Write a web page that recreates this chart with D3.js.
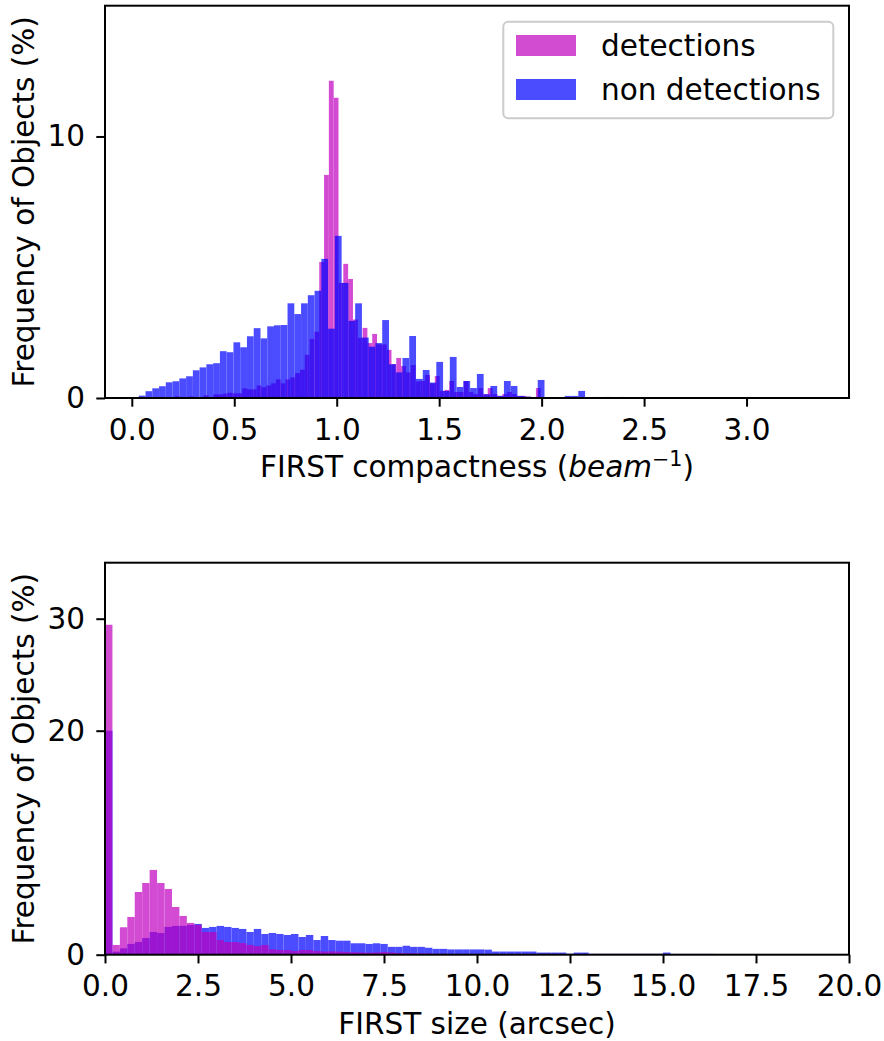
<!DOCTYPE html>
<html>
<head>
<meta charset="utf-8">
<script src="https://cdn.jsdelivr.net/npm/d3@7/dist/d3.min.js"></script>
<style>
  body { margin: 0; background: #fff; }
  text { font-family: 'DejaVu Sans', sans-serif; fill: #000; }
</style>
</head>
<body>
<svg id="fig" width="884" height="1041"></svg>
<script>
// ---------- FIRST compactness histograms (% of objects per bin) ----------
const compactDetStart = 0.0687;   // first bin edge, detections
const compactDetWidth = 0.0235;   // bin width, detections
const compactDet = [
  0, 0, 0, 0, 0, 0, 0.06, 0, 0, 0.06,
  0, 0, 0.10, 0, 0.14, 0.14, 0.17, 0.20, 0.18, 0.18,
  0.37, 0.33, 0.33, 0.48, 0.41, 0.48, 0.56, 0.71, 0.56, 0.71,
  0.79, 0.95, 1.08, 1.65, 2.26, 2.53, 5.20, 8.53, 12.13, 11.48,
  4.40, 5.13, 4.55, 3.00, 2.30, 2.68, 2.10, 2.45, 2.05, 2.05,
  1.84, 1.30, 1.53, 1.22, 0.98, 1.26, 0.63, 0.65, 0.88, 0.56,
  0.84, 0.27, 0.31, 0.65, 0.23, 0.23, 0.65, 0.23, 0.15, 0.38,
  0.15, 0.38, 0.15, 0.08, 0.15, 0.23, 0.15, 0.08, 0.08, 0.05,
  0, 0.38, 0, 0, 0, 0, 0, 0, 0, 0,
  0, 0, 0, 0, 0.03, 0, 0, 0.03, 0, 0.03
];

const compactNonStart = 0.034;    // first bin edge, non detections
const compactNonWidth = 0.033;    // bin width, non detections
const compactNon = [
  0.09, 0.26, 0.37, 0.45, 0.60, 0.64, 0.75, 0.83, 1.06, 1.17,
  1.29, 1.33, 1.79, 1.75, 2.13, 1.94, 2.36, 2.67, 2.28, 2.74,
  2.78, 2.79, 3.62, 3.21, 3.62, 3.93, 4.10, 5.32, 2.65, 6.20,
  4.40, 2.95, 3.62, 2.31, 1.96, 2.10, 2.98, 1.29, 0.98, 1.53,
  2.37, 0.73, 1.07, 0.59, 1.38, 0.27, 1.57, 0.42, 0.65, 0.38,
  0.92, 0.14, 0.46, 0.08, 0.65, 0.46, 0.08, 0.05, 0, 0.69,
  0, 0, 0, 0.08, 0.08, 0.27, 0, 0.04, 0, 0.04,
  0, 0.04, 0, 0, 0, 0, 0, 0, 0, 0,
  0, 0, 0, 0, 0, 0, 0, 0, 0, 0,
  0, 0, 0, 0, 0, 0, 0, 0, 0, 0.03
];

// ---------- FIRST size histograms (arcsec, 0.2" bins) ----------
const sizeStart = 0;
const sizeWidth = 0.2;
const sizeNon = [
  20.0, 0.27, 0.57, 0.96, 1.13, 1.49, 2.03, 1.94, 2.48, 2.57,
  2.57, 2.66, 2.75, 2.39, 2.48, 2.57, 2.48, 2.39, 2.30, 2.03,
  2.30, 1.85, 1.94, 1.85, 1.76, 1.85, 1.58, 1.76, 1.31, 1.67,
  1.31, 1.25, 1.25, 1.02, 1.02, 0.96, 1.02, 0.96, 0.70, 0.70,
  0.80, 0.70, 0.70, 0.62, 0.52, 0.52, 0.47, 0.47, 0.47, 0.47,
  0.47, 0.45, 0.28, 0.28, 0.28, 0.28, 0.28, 0.28, 0.19, 0.19,
  0.19, 0.19, 0.09, 0.19, 0.19, 0.08, 0.08, 0.08, 0.08, 0.08,
  0.08, 0.08, 0.08, 0.08, 0.08, 0.19, 0.07, 0.07, 0.07, 0.07,
  0.07, 0.07, 0.02, 0.02, 0.02, 0.02, 0.06, 0.06, 0.02, 0.02,
  0.02, 0.02, 0.02, 0.02, 0.02, 0.02, 0.02, 0.02, 0.02, 0.02
];
const sizeDet = [
  29.46, 0.87, 2.45, 3.37, 5.60, 6.40, 7.57, 6.40, 5.87, 4.26,
  3.46, 2.84, 2.66, 2.03, 2.03, 1.31, 1.13, 1.13, 1.04, 0.87,
  0.77, 0.87, 0.48, 0.42, 0.42, 0.33, 0.42, 0.42, 0.33, 0.28,
  0.30, 0.28, 0.25, 0.22, 0.20, 0.18, 0.20, 0.25, 0.20, 0.15,
  0.12, 0.12, 0.10, 0.10, 0.08, 0.08, 0.06, 0.05, 0.05, 0.04,
  0.04, 0.03, 0.03, 0.03, 0.02, 0.02, 0.02, 0.02, 0.02, 0.02,
  0.02, 0.02, 0.01, 0.01, 0.01, 0.01, 0.01, 0.01, 0.01, 0.01,
  0, 0, 0, 0, 0, 0, 0, 0, 0, 0,
  0, 0, 0, 0, 0, 0, 0, 0, 0, 0,
  0, 0, 0, 0, 0, 0, 0, 0, 0, 0
];

// ---------- axis ticks ----------
const compactXTicks = [0, 0.5, 1.0, 1.5, 2.0, 2.5, 3.0];
const compactYTicks = [0, 10];
const sizeXTicks = [0, 2.5, 5, 7.5, 10, 12.5, 15, 17.5, 20];
const sizeYTicks = [0, 20, 30];

const legendLabels = ['detections', 'non detections'];

// ---------- drawing ----------
const FONT = 29.5;
const DET_COLOR = '#bf00bf';
const NON_COLOR = '#0000ff';
const BAR_ALPHA = 0.7;
const svg = d3.select('#fig');
svg.append('rect').attr('width', 884).attr('height', 1041).attr('fill', '#fff');

function toBins(values, start, width) {
  return values.map((v, i) => ({ x0: start + i * width, x1: start + (i + 1) * width, v }))
               .filter(d => d.v > 0);
}

function drawPanel(p) {
  const x = d3.scaleLinear().domain(p.xDomain).range([p.left, p.right]);
  const y = d3.scaleLinear().domain(p.yDomain).range([p.bottom, p.top]);
  const g = svg.append('g');

  // histogram layers, in drawing order
  p.layers.forEach(layer => {
    const lg = g.append('g').attr('opacity', BAR_ALPHA);
    lg.selectAll('rect')
      .data(toBins(layer.values, layer.start, layer.width))
      .join('rect')
      .attr('x', d => x(d.x0))
      .attr('width', d => x(d.x1) - x(d.x0))
      .attr('y', d => y(d.v))
      .attr('height', d => y(0) - y(d.v))
      .attr('fill', layer.color);
  });

  // frame
  g.append('rect')
    .attr('x', p.left).attr('y', p.top)
    .attr('width', p.right - p.left).attr('height', p.bottom - p.top)
    .attr('fill', 'none').attr('stroke', '#000').attr('stroke-width', 2);

  // x axis
  const xa = g.append('g').attr('transform', `translate(0,${p.bottom})`)
    .call(d3.axisBottom(x).tickValues(p.xTicks).tickFormat(d3.format('.1f'))
      .tickSize(8.7).tickPadding(12));
  // y axis
  const ya = g.append('g').attr('transform', `translate(${p.left},0)`)
    .call(d3.axisLeft(y).tickValues(p.yTicks).tickFormat(d3.format('d'))
      .tickSize(8.7).tickPadding(11.3));
  [xa, ya].forEach(a => {
    a.select('.domain').remove();
    a.selectAll('.tick line').attr('stroke', '#000').attr('stroke-width', 2);
    a.selectAll('.tick text').attr('font-size', FONT)
      .attr('font-family', "'DejaVu Sans', sans-serif").attr('fill', '#000');
  });

  // y label
  g.append('text')
    .attr('transform', `translate(33.5,${(p.top + p.bottom) / 2}) rotate(-90)`)
    .attr('text-anchor', 'middle').attr('font-size', FONT)
    .text('Frequency of Objects (%)');

  // x label
  const xl = g.append('text')
    .attr('x', (p.left + p.right) / 2).attr('y', p.bottom + 79)
    .attr('text-anchor', 'middle').attr('font-size', FONT);
  p.xLabel(xl);
  return { x, y };
}

// top panel: compactness (non detections drawn over detections)
drawPanel({
  left: 105, right: 849, top: 5.7, bottom: 398,
  xDomain: [-0.1308, 3.5], yDomain: [0, 15],
  xTicks: compactXTicks, yTicks: compactYTicks,
  layers: [
    { values: compactDet, start: compactDetStart, width: compactDetWidth, color: DET_COLOR },
    { values: compactNon, start: compactNonStart, width: compactNonWidth, color: NON_COLOR }
  ],
  xLabel: t => {
    t.append('tspan').text('FIRST compactness (');
    t.append('tspan').attr('font-style', 'italic').text('beam');
    t.append('tspan').attr('font-size', FONT * 0.7).attr('dy', -11.5).text('\u22121');
    t.append('tspan').attr('dy', 11.5).text(')');
  }
});

// bottom panel: size (detections drawn over non detections)
drawPanel({
  left: 105, right: 849, top: 562.7, bottom: 954.7,
  xDomain: [0, 20], yDomain: [0, 35],
  xTicks: sizeXTicks, yTicks: sizeYTicks,
  layers: [
    { values: sizeNon, start: sizeStart, width: sizeWidth, color: NON_COLOR },
    { values: sizeDet, start: sizeStart, width: sizeWidth, color: DET_COLOR }
  ],
  xLabel: t => t.text('FIRST size (arcsec)')
});

// legend (top panel)
const lg = svg.append('g');
lg.append('rect')
  .attr('x', 503.3).attr('y', 21.7).attr('width', 330).attr('height', 96.6)
  .attr('rx', 5).attr('fill', '#fff').attr('fill-opacity', 0.8)
  .attr('stroke', '#cccccc').attr('stroke-width', 2);
const legendColors = [DET_COLOR, NON_COLOR];
legendLabels.forEach((lab, i) => {
  const base = 56 + i * 44;
  lg.append('rect').attr('x', 516).attr('y', base - 21).attr('width', 60).attr('height', 21)
    .attr('fill', legendColors[i]).attr('opacity', BAR_ALPHA);
  lg.append('text').attr('x', 601).attr('y', base).attr('font-size', FONT).text(lab);
});
</script>
</body>
</html>
